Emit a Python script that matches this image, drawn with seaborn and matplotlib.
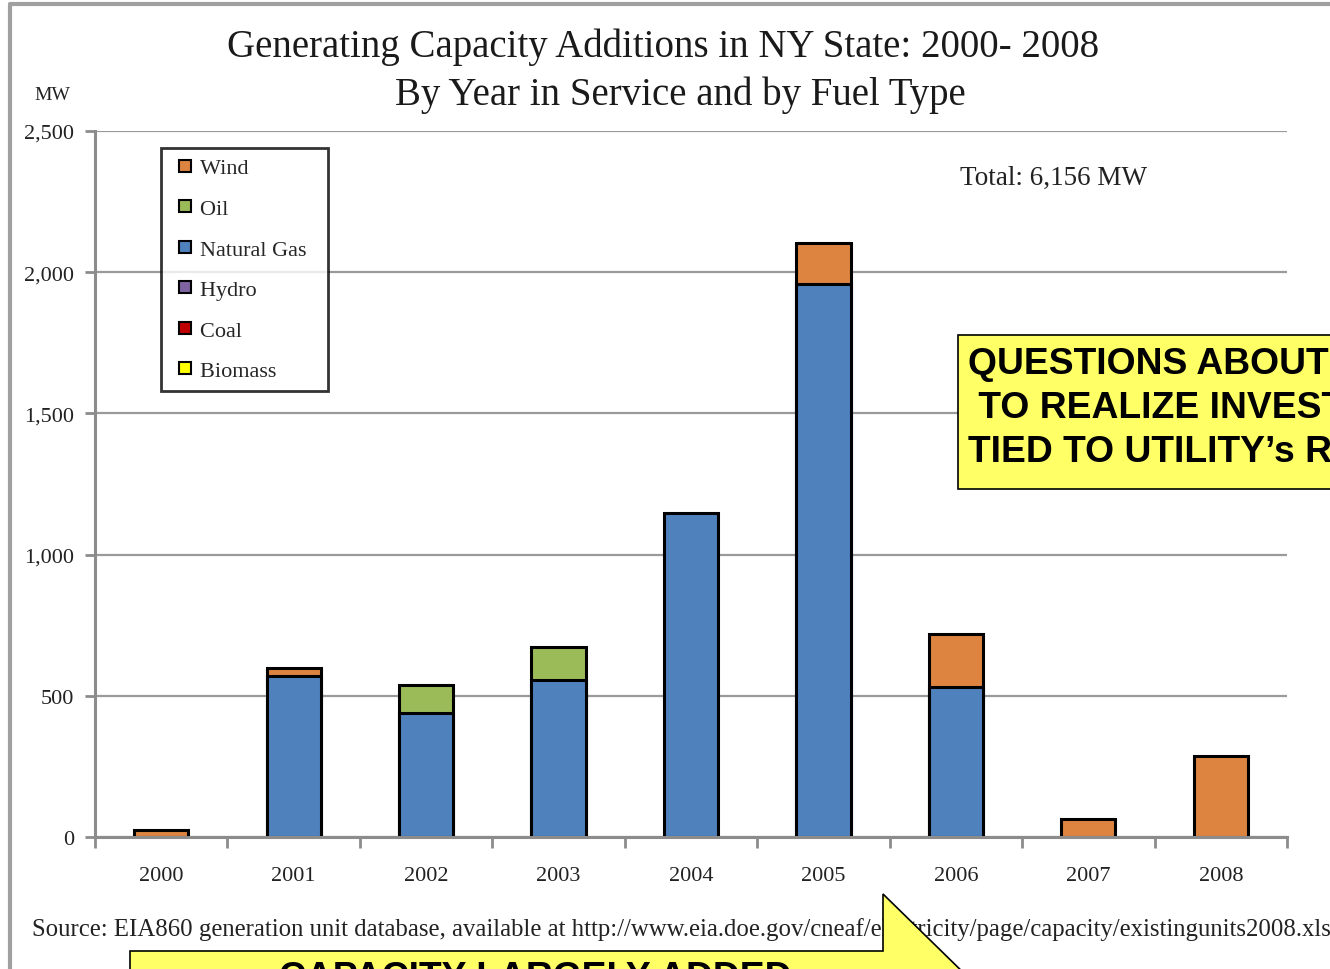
import matplotlib
matplotlib.use("Agg")
import matplotlib.pyplot as plt
from matplotlib.lines import Line2D
from matplotlib.patches import Polygon, Rectangle
import pandas as pd
import seaborn as sns

# Capacity additions (MW) by year and fuel type
years = ["2000", "2001", "2002", "2003", "2004", "2005", "2006", "2007", "2008"]
natural_gas = [0, 570, 439, 556, 1147, 1958, 531, 0, 0]
oil = [0, 0, 99, 117, 0, 0, 0, 0, 0]
wind = [25, 28, 0, 0, 0, 145, 188, 64, 287]
hydro = [0, 0, 0, 0, 0, 0, 0, 0, 0]
coal = [0, 0, 0, 0, 0, 0, 0, 0, 0]
biomass = [0, 0, 0, 0, 0, 0, 0, 0, 0]

fuels = ["Wind", "Oil", "Natural Gas", "Hydro", "Coal", "Biomass"]
colors = {
    "Wind": "#DD8440",
    "Oil": "#9BBB59",
    "Natural Gas": "#4F81BD",
    "Hydro": "#8064A2",
    "Coal": "#C00000",
    "Biomass": "#FFFF00",
}
y_ticks = [0, 500, 1000, 1500, 2000, 2500]
y_labels = ["0", "500", "1,000", "1,500", "2,000", "2,500"]

sns.set_theme(style="white")
plt.rcParams["font.family"] = ["Liberation Serif", "DejaVu Serif"]

W, H = 1330, 970
fig = plt.figure(figsize=(W / 100, H / 100), dpi=100)
fig.patch.set_facecolor("white")


def fx(px):
    return px / W


def fy(py):
    return 1 - py / H


ax = fig.add_axes([fx(95), fy(838), fx(1287) - fx(95), fy(132) - fy(838)])
ax.set_facecolor("white")

# Stack order from the bottom: biomass, coal, hydro, natural gas, oil, wind
stack = [("Biomass", biomass), ("Coal", coal), ("Hydro", hydro),
         ("Natural Gas", natural_gas), ("Oil", oil), ("Wind", wind)]
cum = [0] * len(years)
layers = []
for name, vals in stack:
    cum = [c + v for c, v in zip(cum, vals)]
    layers.append((name, list(cum), vals))

# Draw cumulative totals from the top layer down so each segment shows its own colour
for name, tops, vals in reversed(layers):
    df = pd.DataFrame({"year": years, "mw": tops, "seg": vals})
    df = df[df["seg"] > 0]
    if df.empty:
        continue
    sns.barplot(data=df, x="year", y="mw", order=years, color=colors[name],
                saturation=1, width=0.41, edgecolor="black", linewidth=2.2,
                errorbar=None, ax=ax, zorder=3)

ax.set_xlim(-0.5, len(years) - 0.5)
ax.set_ylim(0, 2500)
ax.set_xlabel("")
ax.set_ylabel("")

# Axes styling
for s in ["top", "right"]:
    ax.spines[s].set_visible(False)
for s in ["left", "bottom"]:
    ax.spines[s].set_color("#8C8C8C")
    ax.spines[s].set_linewidth(2.2)
    ax.spines[s].set_zorder(4)
ax.set_yticks(y_ticks)
ax.set_yticklabels(y_labels, fontsize=16, color="#222222")
ax.yaxis.grid(True, color="#9A9A9A", linewidth=1.6, zorder=0)
ax.set_axisbelow(True)
ax.tick_params(axis="y", which="major", left=True, length=7, width=2,
               color="#8C8C8C", pad=8)
ax.set_xticks(range(len(years)))
ax.set_xticklabels(years, fontsize=16, color="#222222")
ax.set_xticks([i - 0.5 for i in range(len(years) + 1)], minor=True)
ax.tick_params(axis="x", which="major", bottom=False, length=0, pad=21)
ax.tick_params(axis="x", which="minor", bottom=True, length=8, width=2,
               color="#8C8C8C")

# Legend
handles = [Line2D([0], [0], marker="s", linestyle="none", markersize=8.5,
                  markerfacecolor=colors[f], markeredgecolor="black",
                  markeredgewidth=1.5, label=f + "  ") for f in fuels]
leg = ax.legend(handles=handles, loc="upper left",
                bbox_to_anchor=(0.0554, 0.976), fontsize=16, frameon=True,
                fancybox=False, edgecolor="black", handletextpad=0.0,
                handlelength=1.3, labelspacing=0.9, borderpad=0.45,
                borderaxespad=0)
leg.get_frame().set_linewidth(2)
leg.set_zorder(6)

# Titles and labels
fig.text(fx(663), fy(47), "Generating Capacity Additions in NY State: 2000- 2008",
         ha="center", va="center", fontsize=28, color="#1a1a1a")
fig.text(fx(680), fy(95), "By Year in Service and by Fuel Type",
         ha="center", va="center", fontsize=28, color="#1a1a1a")
fig.text(fx(52), fy(96), "MW", ha="center", va="center", fontsize=14,
         color="#222222")
fig.text(fx(960), fy(178), "Total: 6,156 MW", ha="left", va="center",
         fontsize=19.5, color="#222222")
fig.text(fx(32), fy(930),
         "Source: EIA860 generation unit database, available at "
         "http://www.eia.doe.gov/cneaf/electricity/page/capacity/existingunits2008.xls",
         ha="left", va="center", fontsize=17.8, color="#222222")

# Outer frame
fig.add_artist(Line2D([fx(10), fx(10), fx(1335)], [fy(975), fy(5), fy(5)],
                      color="#A0A0A0", linewidth=3))

# Callout box on the right
fig.add_artist(Rectangle((fx(958), fy(490)), fx(400), fy(336) - fy(490),
                         facecolor="#FFFF66", edgecolor="black", linewidth=1.2,
                         zorder=10))
callout_font = ["Liberation Sans", "DejaVu Sans"]
for py, txt in [(364, "QUESTIONS ABOUT ABILITY"),
                (409, " TO REALIZE INVESTMENTS"),
                (453, "TIED TO UTILITY\u2019s RATES")]:
    fig.text(fx(968), fy(py), txt, ha="left", va="center", fontsize=26.8,
             fontweight="bold", family=callout_font, color="black", zorder=11)

# Arrow callout at the bottom
arrow = Polygon([(fx(130), fy(985)), (fx(130), fy(952)), (fx(883), fy(952)),
                 (fx(883), fy(895)), (fx(975), fy(985))],
                closed=True, facecolor="#FFFF66", edgecolor="black",
                linewidth=1.2, zorder=10)
fig.add_artist(arrow)
fig.text(fx(535), fy(961), "CAPACITY LARGELY ADDED", ha="center", va="top",
         fontsize=26.8, fontweight="bold", family=callout_font, color="black",
         zorder=11)

fig.savefig("out.png", dpi=100, facecolor="white")
